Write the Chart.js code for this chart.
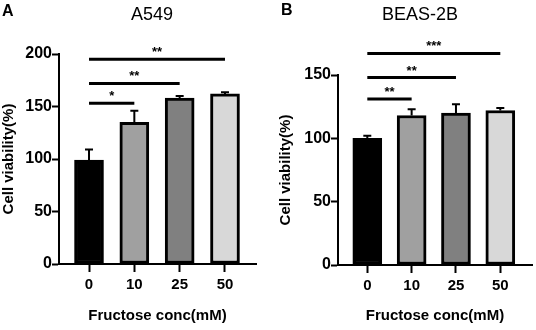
<!DOCTYPE html>
<html><head><meta charset="utf-8">
<script src="https://cdn.jsdelivr.net/npm/chart.js@4/dist/chart.umd.min.js"></script>
<style>
html,body{margin:0;padding:0;background:#fff;}
#wrap{position:relative;width:536px;height:330px;overflow:hidden;font-family:"Liberation Sans",Arial,sans-serif;color:#000;}
.cv{position:absolute;top:0;width:268px;height:330px;}
.lbl{position:absolute;font-weight:bold;font-size:16px;line-height:16px;}
.ttl{position:absolute;font-size:18px;line-height:18px;transform:translateX(-50%);white-space:nowrap;}
</style></head><body>
<div id="wrap">
  <div class="cv" style="left:0"><canvas id="cA" width="268" height="330"></canvas></div>
  <div class="cv" style="left:268px"><canvas id="cB" width="268" height="330"></canvas></div>
  <div class="lbl" style="left:2px;top:3px">A</div>
  <div class="lbl" style="left:281px;top:2px">B</div>
  <div class="ttl" style="left:152px;top:5px">A549</div>
  <div class="ttl" style="left:420px;top:5px">BEAS-2B</div>
</div>
<script>
// ---- data ----
const categories = ['0', '10', '25', '50'];
const a549Mean = [99, 135, 158, 162];
const a549Sd = [10, 11, 2, 1.5];
const a549SigTo = [1, 2, 3];
const a549SigY = [153, 172, 195];
const a549SigText = ['*', '**', '**'];
const beasMean = [100, 118, 120, 122];
const beasSd = [2, 5, 7, 2];
const beasSigTo = [1, 2, 3];
const beasSigY = [131, 148, 167];
const beasSigText = ['**', '**', '***'];
const barColors = ['#000000', '#a0a0a0', '#808080', '#d8d8d8'];
const yTitle = 'Cell viability(%)';
const xTitle = 'Fructose conc(mM)';

const FONT = '"Liberation Sans", Arial, sans-serif';

const errSig = {
  id: 'errsig',
  afterDatasetsDraw(chart, args, o) {
    const {ctx} = chart; const x = chart.scales.x, y = chart.scales.y;
    ctx.save();
    ctx.strokeStyle = '#000'; ctx.fillStyle = '#000';
    ctx.lineWidth = 2;
    o.mean.forEach((m, i) => {
      const px = x.getPixelForValue(i);
      const y0 = y.getPixelForValue(m);
      const y1 = y.getPixelForValue(m + o.sd[i]);
      ctx.beginPath();
      ctx.moveTo(px, y0); ctx.lineTo(px, y1);
      ctx.moveTo(px - 4, y1); ctx.lineTo(px + 4, y1);
      ctx.stroke();
    });
    ctx.lineWidth = 3;
    ctx.font = 'bold 13px ' + FONT;
    ctx.textAlign = 'center'; ctx.textBaseline = 'alphabetic';
    o.sigTo.forEach((t, k) => {
      const xa = x.getPixelForValue(0), xb = x.getPixelForValue(t);
      const yy = y.getPixelForValue(o.sigY[k]);
      ctx.beginPath(); ctx.moveTo(xa, yy); ctx.lineTo(xb, yy); ctx.stroke();
      ctx.fillText(o.sigText[k], (xa + xb) / 2, yy - 3);
    });
    ctx.restore();
  }
};

function makeChart(id, mean, sd, sigTo, sigY, sigText, L) {
  return new Chart(document.getElementById(id), {
    type: 'bar',
    data: {
      datasets: [{
        data: mean.map((v, i) => ({x: i, y: v})),
        backgroundColor: barColors,
        borderColor: '#000',
        borderWidth: 3,
        borderSkipped: false,
        barThickness: 29
      }]
    },
    plugins: [errSig],
    options: {
      responsive: false,
      animation: false,
      layout: {padding: {left: 0, top: L.top, right: L.right, bottom: 0}},
      plugins: {
        legend: {display: false},
        tooltip: {enabled: false},
        errsig: {mean, sd, sigTo, sigY, sigText}
      },
      scales: {
        x: {
          type: 'linear', min: L.xmin, max: L.xmax, offset: false,
          afterBuildTicks: s => { s.ticks = categories.map((c, i) => ({value: i})); },
          afterFit: s => { s.height = L.xh; },
          grid: {display: true, drawOnChartArea: false, drawTicks: true, tickLength: 8, tickWidth: 2, tickColor: '#000', offset: false},
          border: {display: true, color: '#000', width: 2},
          ticks: {callback: v => categories[v], font: {family: FONT, size: 15, weight: 'bold'}, color: '#000', padding: 4, maxRotation: 0, autoSkip: false},
          title: {display: true, text: xTitle, font: {family: FONT, size: 15, weight: 'bold'}, color: '#000', padding: {top: 0, bottom: 5}}
        },
        y: {
          min: 0, max: L.ymax,
          afterFit: s => { s.width = L.yw; },
          grid: {display: true, drawOnChartArea: false, drawTicks: true, tickLength: 7, tickWidth: 2, tickColor: '#000'},
          border: {display: true, color: '#000', width: 2},
          ticks: {stepSize: 50, font: {family: FONT, size: 16, weight: 'bold'}, color: '#000', padding: 0},
          title: {display: true, text: yTitle, font: {family: FONT, size: 15, weight: 'bold'}, color: '#000', padding: {top: L.ytp, bottom: 0}}
        }
      }
    }
  });
}

makeChart('cA', a549Mean, a549Sd, a549SigTo, a549SigY, a549SigText,
  {top: 54, right: 12, xh: 66, yw: 59, ymax: 200, xmin: -0.662, xmax: 3.684, ytp: 0});
makeChart('cB', beasMean, beasSd, beasSigTo, beasSigY, beasSigText,
  {top: 75, right: 4, xh: 65, yw: 70, ymax: 150, xmin: -0.661, xmax: 3.715, ytp: 9});
</script>
</body></html>
